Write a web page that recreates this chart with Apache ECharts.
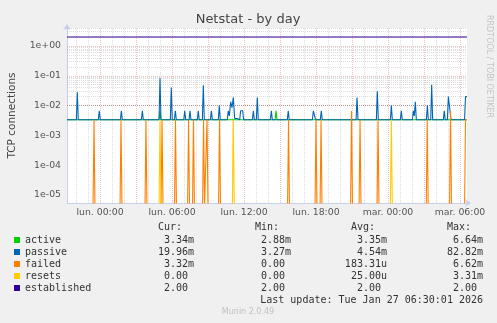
<!DOCTYPE html>
<html><head><meta charset="utf-8">
<script src="https://cdn.jsdelivr.net/npm/echarts@6/dist/echarts.min.js"></script>
<style>html,body{margin:0;padding:0;background:#f0f0f0}#c{width:497px;height:323px}</style>
</head><body><div id="c"></div>
<script>
// ---- data (hours relative to lun. 00:00, values in connections/s) ----
const seriesNames  = ['active', 'passive', 'failed', 'resets', 'established'];
const seriesColors = ['#00cc00', '#0066b3', '#ff8000', '#ffcc00', '#330099'];

const activePoints = [
  [-2.75, 0.00333], [4.92, 0.00333], [5.00, 0.00664], [5.08, 0.00333],
  [11.09, 0.00333], [11.17, 0.00288], [11.25, 0.00333],
  [14.59, 0.00333], [14.67, 0.00667], [14.75, 0.00333], [30.58, 0.00334]
];

const passivePoints = [
  [-2.75, 0.00333],
  [-1.97, 0.00333], [-1.89, 0.028], [-1.81, 0.00333],
  [-0.14, 0.00333], [-0.06, 0.00667], [0.02, 0.00333],
  [1.70, 0.00333], [1.78, 0.00667], [1.86, 0.00333],
  [3.45, 0.00333], [3.53, 0.00667], [3.61, 0.00333],
  [4.92, 0.00333], [5.00, 0.0828], [5.08, 0.00333],
  [5.86, 0.00333], [5.94, 0.04], [6.02, 0.00333],
  [6.20, 0.00333], [6.28, 0.00667], [6.36, 0.00333],
  [6.98, 0.00333], [7.06, 0.00667], [7.14, 0.00333],
  [7.42, 0.00333], [7.50, 0.00667], [7.58, 0.00333],
  [8.11, 0.00333], [8.19, 0.00667], [8.27, 0.00333],
  [8.53, 0.00333], [8.61, 0.048], [8.69, 0.00333],
  [9.20, 0.00333], [9.28, 0.00667], [9.36, 0.00333],
  [9.86, 0.00333], [9.94, 0.01], [10.02, 0.00333],
  [10.61, 0.00333], [10.69, 0.00667], [10.78, 0.0045], [10.89, 0.0133], [11.00, 0.0085],
  [11.11, 0.0187], [11.22, 0.0037], [11.42, 0.0037], [11.50, 0.00333],
  [11.64, 0.00333], [11.72, 0.00667], [11.89, 0.00667], [11.97, 0.00333],
  [12.70, 0.00333], [12.78, 0.00667], [12.86, 0.00333],
  [13.03, 0.00333], [13.11, 0.0187], [13.19, 0.00333],
  [14.20, 0.00333], [14.28, 0.00667], [14.36, 0.00333],
  [15.61, 0.00333], [15.69, 0.00667], [15.77, 0.00333],
  [17.70, 0.00333], [17.78, 0.00667], [17.89, 0.00667], [17.97, 0.00333],
  [18.36, 0.00333], [18.44, 0.00667], [18.52, 0.00333],
  [21.34, 0.00333], [21.42, 0.0187], [21.50, 0.00333],
  [23.03, 0.00333], [23.11, 0.03], [23.19, 0.00333],
  [24.20, 0.00333], [24.28, 0.01], [24.36, 0.00333],
  [25.03, 0.00333], [25.11, 0.00667], [25.19, 0.00333],
  [26.03, 0.00333], [26.11, 0.00667], [26.19, 0.0045], [26.28, 0.0133], [26.36, 0.00333],
  [27.20, 0.00333], [27.28, 0.01], [27.36, 0.00333],
  [27.56, 0.00333], [27.64, 0.05], [27.72, 0.00333],
  [28.61, 0.00333], [28.69, 0.00667], [28.77, 0.00333],
  [28.95, 0.00333], [29.03, 0.02], [29.17, 0.02], [29.25, 0.00333],
  [30.38, 0.00333], [30.46, 0.01996], [30.58, 0.01996]
];

const failedPoints = [
  [-2.75, 0],
  [-0.58, 0], [-0.50, 0.00333], [-0.42, 0],
  [1.67, 0], [1.75, 0.00333], [1.83, 0],
  [3.75, 0], [3.83, 0.00333], [3.91, 0],
  [5.09, 0], [5.17, 0.00333], [5.25, 0],
  [6.21, 0], [6.29, 0.00333], [6.37, 0],
  [7.30, 0], [7.38, 0.00333], [7.46, 0],
  [7.71, 0], [7.79, 0.00333], [7.87, 0],
  [8.55, 0], [8.63, 0.00333], [8.71, 0],
  [8.84, 0], [8.92, 0.00333], [9.00, 0],
  [9.88, 0], [9.96, 0.00333], [10.04, 0],
  [15.63, 0], [15.71, 0.00333], [15.79, 0],
  [17.92, 0], [18.00, 0.00333], [18.08, 0],
  [18.34, 0], [18.42, 0.00333], [18.50, 0],
  [20.88, 0], [20.96, 0.00662], [21.04, 0],
  [21.59, 0], [21.67, 0.00333], [21.75, 0],
  [23.09, 0], [23.17, 0.00333], [23.25, 0],
  [27.19, 0], [27.27, 0.00333], [27.35, 0],
  [29.13, 0], [29.21, 0.00662], [29.29, 0],
  [30.38, 0], [30.46, 0.00332], [30.58, 0.00332]
];

const resetsPoints = [
  [-2.75, 0],
  [4.92, 0], [5.00, 0.00331], [5.08, 0],
  [11.03, 0], [11.11, 0.00331], [11.19, 0],
  [24.20, 0], [24.28, 0.00331], [24.36, 0],
  [30.58, 0]
];

const establishedPoints = [[-2.75, 2], [30.58, 2]];

const statHeaders = ['Cur:', 'Min:', 'Avg:', 'Max:'];
const statCur = ['3.34m', '19.96m', '3.32m', '0.00 ', '2.00 '];
const statMin = ['2.88m', '3.27m', '0.00 ', '0.00 ', '2.00 '];
const statAvg = ['3.35m', '4.54m', '183.31u', '25.00u', '2.00 '];
const statMax = ['6.64m', '82.82m', '6.62m', '3.31m', '2.00 '];

const xTickHours  = [0, 6, 12, 18, 24, 30];
const xTickLabels = ['lun. 00:00', 'lun. 06:00', 'lun. 12:00', 'lun. 18:00', 'mar. 00:00', 'mar. 06:00'];
const yTickExponents = [-5, -4, -3, -2, -1, 0];
const yTickLabels    = ['1e-05', '1e-04', '1e-03', '1e-02', '1e-01', '1e+00'];

const titleText = 'Netstat - by day';
const yAxisTitle = 'TCP connections';
const lastUpdate = 'Last update: Tue Jan 27 06:30:01 2026';
const footerText = 'Munin 2.0.49';
const sideText = 'RRDTOOL / TOBI OETIKER';

// ---- scale setup ----
const X_MIN = -2.75, X_MAX = 30.5833;
const Y_MIN = 5.39e-6, Y_MAX = 4;
const ZERO_FLOOR = 4.2e-6;   // log axis cannot show 0: draw it just below the bottom edge (clipped)

const allPoints = [activePoints, passivePoints, failedPoints, resetsPoints, establishedPoints];

// grid lines (rrdtool style): hourly minor, 3-hourly major; 2..9 minor per decade
const gridMarks = [];
const MINOR = 'rgba(150,150,150,0.32)', MAJOR = 'rgba(225,110,110,0.42)';
for (let h = Math.ceil(X_MIN); h <= Math.floor(X_MAX); h++) {
  gridMarks.push({ xAxis: h, lineStyle: { color: h % 3 === 0 ? MAJOR : MINOR, type: [1, 1], width: 1 } });
}
for (let e = -6; e <= 0; e++) {
  for (let k = 1; k <= 9; k++) {
    const v = k * Math.pow(10, e);
    if (v >= Y_MIN && v <= Y_MAX) {
      gridMarks.push({ yAxis: v, lineStyle: { color: k === 1 ? MAJOR : MINOR, type: [1, 1], width: 1 } });
    }
  }
}

const mono = '"DejaVu Sans Mono", monospace';
const sans = '"DejaVu Sans", sans-serif';

const graphics = [
  { type: 'text', x: 248, y: 19.5, style: { text: titleText, font: '13px ' + sans, fill: '#444', align: 'center', verticalAlign: 'middle', textAlign: 'center', textVerticalAlign: 'middle' } },
  { type: 'text', x: 12, y: 115.5, rotation: Math.PI / 2, style: { text: yAxisTitle, font: '10.5px ' + sans, fill: '#444', align: 'center', verticalAlign: 'middle', textAlign: 'center', textVerticalAlign: 'middle' } },
  { type: 'text', x: 489, y: 15, rotation: -Math.PI / 2, style: { text: sideText, font: '8px ' + sans, fill: '#c4c4c4', align: 'left', verticalAlign: 'middle', textAlign: 'left', textVerticalAlign: 'middle' } },
  { type: 'text', x: 248, y: 312, style: { text: footerText, font: '8px ' + sans, fill: '#c0c0c0', align: 'center', verticalAlign: 'middle', textAlign: 'center', textVerticalAlign: 'middle' } },
  { type: 'text', x: 483, y: 300, style: { text: lastUpdate, font: '10px ' + mono, fill: '#333', align: 'right', verticalAlign: 'middle', textAlign: 'right', textVerticalAlign: 'middle' } }
];
const colRight = [194, 291, 387, 483];
const rowY = [240, 252, 264, 276, 288];
statHeaders.forEach((t, i) => graphics.push({ type: 'text', x: colRight[i] - 12, y: 227.5, style: { text: t, font: '10px ' + mono, fill: '#333', align: 'right', verticalAlign: 'middle', textAlign: 'right', textVerticalAlign: 'middle' } }));
[statCur, statMin, statAvg, statMax].forEach((col, ci) => {
  col.forEach((t, ri) => graphics.push({ type: 'text', x: colRight[ci], y: rowY[ri], style: { text: t, font: '10px ' + mono, fill: '#333', align: 'right', verticalAlign: 'middle', textAlign: 'right', textVerticalAlign: 'middle' } }));
});

const dataSeries = seriesNames.map((name, i) => ({
  name: name,
  type: 'line',
  data: allPoints[i].map(p => [p[0], p[1] > 0 ? p[1] : ZERO_FLOOR]),
  color: seriesColors[i],
  itemStyle: { color: seriesColors[i] },
  lineStyle: { width: 1.1, color: seriesColors[i] },
  showSymbol: false,
  symbol: 'none',
  clip: true,
  z: 3,
  animation: false
}));

const chart = echarts.init(document.getElementById('c'), null, { renderer: 'canvas' });
chart.setOption({
  backgroundColor: '#f0f0f0',
  animation: false,
  grid: { left: 67, right: 30, top: 28, bottom: 120, show: true, backgroundColor: '#ffffff', borderWidth: 0 },
  legend: {
    data: seriesNames, orient: 'vertical', left: 9, top: 229, itemGap: 0, padding: 5,
    icon: 'rect', itemWidth: 6, itemHeight: 6, selectedMode: false,
    textStyle: { fontFamily: mono, fontSize: 10, lineHeight: 12, color: '#333' }
  },
  xAxis: {
    type: 'value', min: X_MIN, max: X_MAX, interval: 0.25,
    axisLine: { show: true, onZero: false, lineStyle: { color: '#c8d0f0', width: 1 }, symbol: ['none', 'arrow'], symbolSize: [6, 6], symbolOffset: [0, 4] },
    axisTick: { show: false },
    splitLine: { show: false },
    axisLabel: {
      margin: 5, fontFamily: sans, fontSize: 9.33, color: '#555',
      formatter: v => { const i = xTickHours.findIndex(h => Math.abs(h - v) < 1e-6); return i >= 0 ? xTickLabels[i] : ''; }
    }
  },
  yAxis: {
    type: 'log', logBase: 10, min: Y_MIN, max: Y_MAX,
    axisLine: { show: true, onZero: false, lineStyle: { color: '#c8d0f0', width: 1 }, symbol: ['none', 'arrow'], symbolSize: [6, 6], symbolOffset: [0, 4] },
    axisTick: { show: false },
    splitLine: { show: false },
    axisLabel: {
      margin: 6, fontFamily: sans, fontSize: 9.33, color: '#555',
      formatter: v => { const l = Math.log10(v); const i = yTickExponents.findIndex(e => Math.abs(e - l) < 1e-6); return i >= 0 ? yTickLabels[i] : ''; }
    }
  },
  graphic: graphics,
  series: [{
    name: 'grid', type: 'line', data: [], silent: true, z: 1,
    markLine: { silent: true, symbol: 'none', z: 1, animation: false, label: { show: false }, data: gridMarks }
  }].concat(dataSeries)
});
</script></body></html>
